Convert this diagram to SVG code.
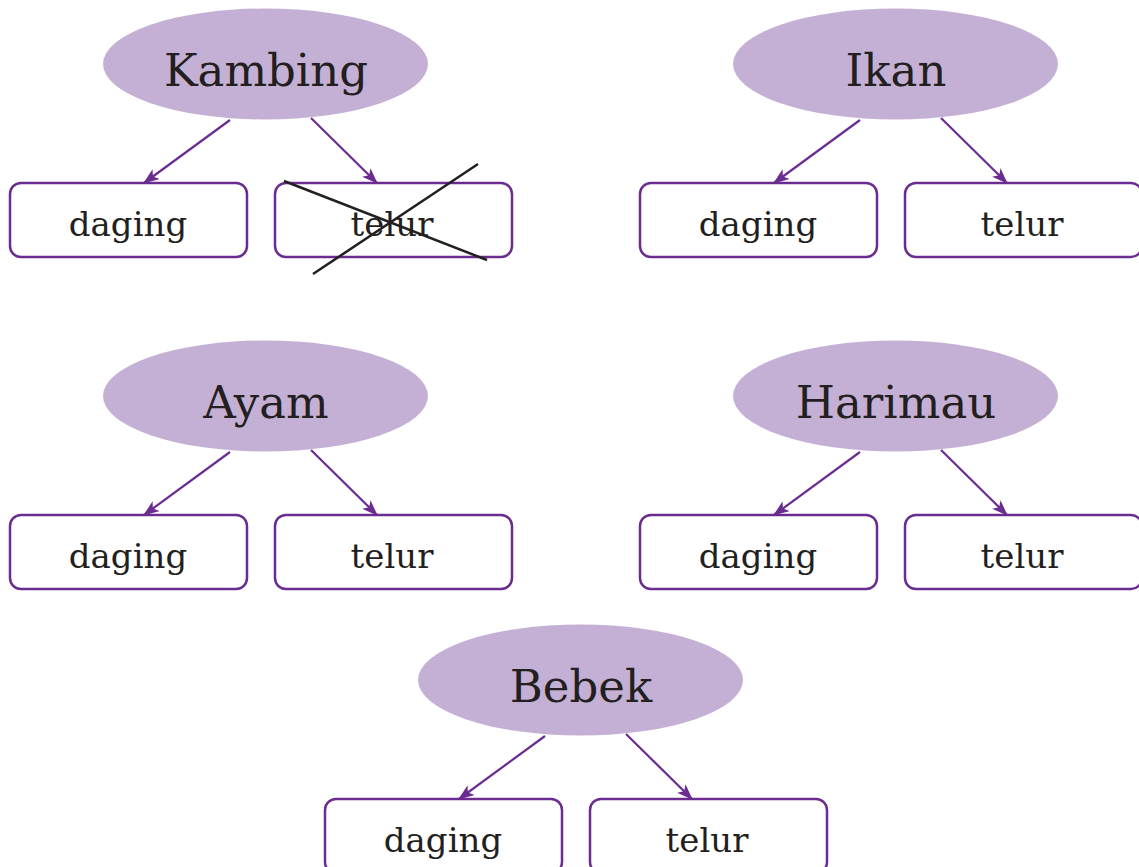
<svg xmlns="http://www.w3.org/2000/svg" width="1139" height="867" viewBox="0 0 1139 867">
<style>
.el{fill:#c5b0d5}
.bx{fill:#fff;stroke:#6b2c91;stroke-width:2.5}
.t1{font-family:"DejaVu Serif","Liberation Serif",serif;font-size:45px;fill:#231f20;text-anchor:middle}
.t2{font-family:"DejaVu Serif","Liberation Serif",serif;font-size:34px;fill:#231f20;text-anchor:middle}
.ar{stroke:#6b2c91;stroke-width:2.2;fill:none;marker-end:url(#ah)}
.x{stroke:#231f20;stroke-width:2.5}
</style>
<defs>
<marker id="ah" viewBox="0 0 16 12" refX="15" refY="6" markerWidth="16" markerHeight="12" markerUnits="userSpaceOnUse" orient="auto">
<path d="M0,0 L16,6 L0,12 L4,6 Z" fill="#6b2c91"/>
</marker>
</defs>
<rect width="1139" height="867" fill="#fff"/>
<g id="kambing"><ellipse class="el" cx="265.5" cy="64" rx="162.5" ry="55.5"/><text class="t1" x="266" y="86">Kambing</text></g>
<g id="kambing-daging"><rect class="bx" x="10" y="183" width="237" height="74" rx="11"/><text class="t2" x="128" y="236">daging</text></g>
<g id="kambing-telur"><rect class="bx" x="275" y="183" width="237" height="74" rx="11"/><text class="t2" x="392" y="236">telur</text></g>
<g id="ikan"><ellipse class="el" cx="895.5" cy="64" rx="162.5" ry="55.5"/><text class="t1" x="896" y="86">Ikan</text></g>
<g id="ikan-daging"><rect class="bx" x="640" y="183" width="237" height="74" rx="11"/><text class="t2" x="758" y="236">daging</text></g>
<g id="ikan-telur"><rect class="bx" x="905" y="183" width="237" height="74" rx="11"/><text class="t2" x="1022" y="236">telur</text></g>
<g id="ayam"><ellipse class="el" cx="265.5" cy="396" rx="162.5" ry="55.5"/><text class="t1" x="266" y="418">Ayam</text></g>
<g id="ayam-daging"><rect class="bx" x="10" y="515" width="237" height="74" rx="11"/><text class="t2" x="128" y="568">daging</text></g>
<g id="ayam-telur"><rect class="bx" x="275" y="515" width="237" height="74" rx="11"/><text class="t2" x="392" y="568">telur</text></g>
<g id="harimau"><ellipse class="el" cx="895.5" cy="396" rx="162.5" ry="55.5"/><text class="t1" x="896" y="418">Harimau</text></g>
<g id="harimau-daging"><rect class="bx" x="640" y="515" width="237" height="74" rx="11"/><text class="t2" x="758" y="568">daging</text></g>
<g id="harimau-telur"><rect class="bx" x="905" y="515" width="237" height="74" rx="11"/><text class="t2" x="1022" y="568">telur</text></g>
<g id="bebek"><ellipse class="el" cx="580.5" cy="680" rx="162.5" ry="55.5"/><text class="t1" x="581" y="702">Bebek</text></g>
<g id="bebek-daging"><rect class="bx" x="325" y="799" width="237" height="74" rx="11"/><text class="t2" x="443" y="852">daging</text></g>
<g id="bebek-telur"><rect class="bx" x="590" y="799" width="237" height="74" rx="11"/><text class="t2" x="707" y="852">telur</text></g>
<g id="connectors">
<line class="ar" x1="230" y1="120" x2="144" y2="183"/>
<line class="ar" x1="311" y1="118" x2="377" y2="183"/>
<line class="ar" x1="860" y1="120" x2="774" y2="183"/>
<line class="ar" x1="941" y1="118" x2="1007" y2="183"/>
<line class="ar" x1="230" y1="452" x2="144" y2="515"/>
<line class="ar" x1="311" y1="450" x2="377" y2="515"/>
<line class="ar" x1="860" y1="452" x2="774" y2="515"/>
<line class="ar" x1="941" y1="450" x2="1007" y2="515"/>
<line class="ar" x1="545" y1="736" x2="459" y2="799"/>
<line class="ar" x1="626" y1="734" x2="692" y2="799"/>
</g>
<g id="cross">
<line class="x" x1="284" y1="181" x2="487" y2="260"/>
<line class="x" x1="313" y1="274" x2="478" y2="164"/>
</g>
</svg>
